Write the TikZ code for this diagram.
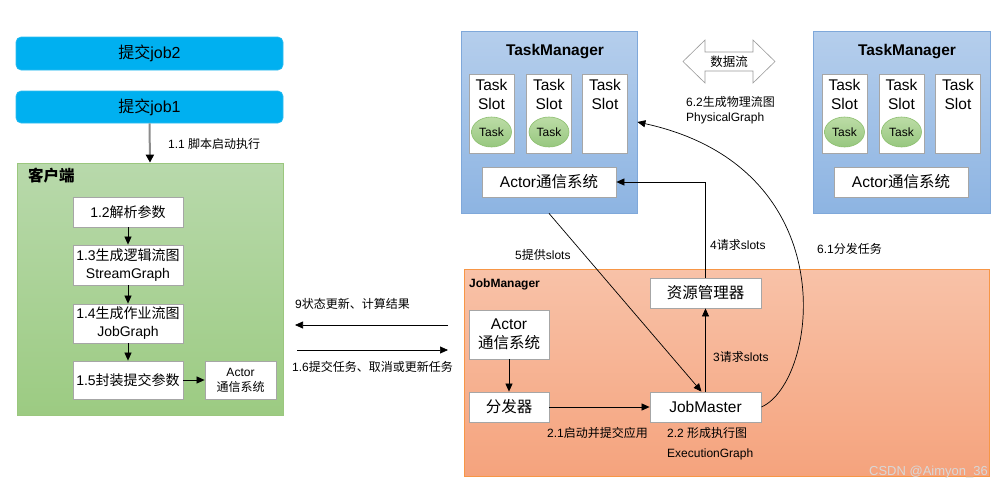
\documentclass[tikz,border=0pt]{standalone}
\usepackage{fontspec}
\setmainfont{Liberation Sans}
\newfontfamily\zh{Noto Sans CJK SC}
\usetikzlibrary{arrows.meta,shapes.geometric,calc}
\definecolor{jobblue}{HTML}{00B0F0}
\definecolor{jobbd}{HTML}{30BEF0}
\definecolor{cltop}{HTML}{B8D9AB}
\definecolor{clbot}{HTML}{9CCB82}
\definecolor{clbd}{HTML}{9BC77E}
\definecolor{tmtop}{HTML}{B5CEEC}
\definecolor{tmbot}{HTML}{8DB4E2}
\definecolor{tmbd}{HTML}{7FA8DA}
\definecolor{jmtop}{HTML}{F8C2A8}
\definecolor{jmbot}{HTML}{F5A37D}
\definecolor{jmbd}{HTML}{F79646}
\definecolor{boxbd}{HTML}{A6A6A6}
\definecolor{tasktop}{HTML}{BCDCA6}
\definecolor{taskbot}{HTML}{97C77F}
\definecolor{taskbd}{HTML}{8CBF6E}
\definecolor{wmark}{HTML}{D8D8D8}
\begin{document}
\begin{tikzpicture}[x=1pt,y=-1pt,
  jobbox/.style={rounded corners=5pt, fill=jobblue, draw=jobbd, line width=0.6pt, inner sep=0pt, font=\fontsize{16}{19}\selectfont},
  wbox/.style={draw=boxbd, fill=white, line width=0.8pt, inner sep=0pt, align=center, font=\fontsize{15.5}{19}\selectfont},
  cbox/.style={wbox, font=\fontsize{14}{18}\selectfont},
  sbox/.style={wbox, font=\fontsize{12}{15}\selectfont},
  slotbox/.style={wbox, minimum width=45pt, minimum height=79pt},
  slotlbl/.style={inner sep=0pt, align=center, anchor=north, font=\fontsize{15.5}{19}\selectfont},
  taskell/.style={ellipse, top color=tasktop, bottom color=taskbot, draw=taskbd, line width=0.6pt, minimum width=40pt, minimum height=30pt, inner sep=0pt, font=\fontsize{12}{14}\selectfont},
  lbl/.style={inner sep=0pt, font=\fontsize{12}{15}\selectfont},
  conn/.style={line width=0.7pt, -{Triangle[length=8pt,width=7pt]}},
  tmstyle/.style={top color=tmtop, bottom color=tmbot, draw=tmbd, line width=0.8pt, inner sep=0pt},
]
\useasboundingbox (0,0) rectangle (1004,491);
\fill[white] (0,0) rectangle (1004,491);

% ---------- left: jobs and client ----------
\node[jobbox, minimum width=267pt, minimum height=33pt] (job2) at (149.5,53.5) {{\zh 提交}job2};
\node[jobbox, minimum width=267pt, minimum height=32pt] (job1) at (149.5,107) {{\zh 提交}job1};
\node[top color=cltop, bottom color=clbot, draw=clbd, line width=0.8pt, inner sep=0pt, minimum width=266pt, minimum height=252pt] (client) at (150,289) {};
\node[lbl, anchor=west] (l11) at (168,144) {1.1 {\zh 脚本启动执行}};
\draw[line width=2pt, draw=black!45, -{Triangle[length=8pt,width=8pt,color=black]}] (job1.south) -- (client.north);
\node[anchor=west, inner sep=0pt, font=\fontsize{15.5}{18}\selectfont] (clt) at (28,176) {{\zh\bfseries 客户端}};

\node[cbox, minimum width=110pt, minimum height=30pt] (n12) at (128,212) {1.2{\zh 解析参数}};
\node[cbox, minimum width=110pt, minimum height=40pt] (n13) at (128,265) {1.3{\zh 生成逻辑流图}\\StreamGraph};
\node[cbox, minimum width=110pt, minimum height=39pt] (n14) at (128,323.5) {1.4{\zh 生成作业流图}\\JobGraph};
\node[cbox, minimum width=110pt, minimum height=38pt] (n15) at (128,380) {1.5{\zh 封装提交参数}};
\node[sbox, minimum width=71pt, minimum height=38pt] (cact) at (240.5,380) {Actor\\{\zh 通信系统}};
\draw[conn] (n12) -- (n13);
\draw[conn] (n13) -- (n14);
\draw[conn] (n14) -- (n15);
\draw[conn] (n15) -- (cact);

% ---------- middle arrows ----------
\coordinate (a9s) at (448,325);
\coordinate (a9e) at (295,325);
\coordinate (a16s) at (297,350);
\coordinate (a16e) at (448,350);
\draw[conn] (a9s) -- (a9e);
\draw[conn] (a16s) -- (a16e);
\node[lbl, anchor=west] (l9) at (295,304) {9{\zh 状态更新、计算结果}};
\node[lbl, anchor=west] (l16) at (292,367) {1.6{\zh 提交任务、取消或更新任务}};

% ---------- TaskManager left ----------
\node[tmstyle, minimum width=176pt, minimum height=182pt] (tmL) at (549,122) {};
\node[inner sep=0pt, font=\fontsize{15.5}{18}\bfseries\selectfont] (tmLt) at (555,52) {TaskManager};
\node[slotbox] (sL1) at (491.5,113.5) {};
\node[slotbox] (sL2) at (549,113.5) {};
\node[slotbox] (sL3) at (605,113.5) {};
\node[slotlbl] (sL1t) at (491.5,79) {Task\\Slot};
\node[slotlbl] (sL2t) at (549,79) {Task\\Slot};
\node[slotlbl] (sL3t) at (605,79) {Task\\Slot};
\node[taskell] (tL1) at (491.5,132) {Task};
\node[taskell] (tL2) at (549,132) {Task};
\node[wbox, minimum width=134pt, minimum height=30pt] (tmLact) at (549,182) {Actor{\zh 通信系统}};

% ---------- TaskManager right ----------
\node[tmstyle, minimum width=177pt, minimum height=182pt] (tmR) at (901.5,122) {};
\node[inner sep=0pt, font=\fontsize{15.5}{18}\bfseries\selectfont] (tmRt) at (907,52) {TaskManager};
\node[slotbox] (sR1) at (844.5,113.5) {};
\node[slotbox] (sR2) at (901.5,113.5) {};
\node[slotbox] (sR3) at (958,113.5) {};
\node[slotlbl] (sR1t) at (844.5,79) {Task\\Slot};
\node[slotlbl] (sR2t) at (901.5,79) {Task\\Slot};
\node[slotlbl] (sR3t) at (958,79) {Task\\Slot};
\node[taskell] (tR1) at (844.5,132) {Task};
\node[taskell] (tR2) at (901.5,132) {Task};
\node[wbox, minimum width=134pt, minimum height=30pt] (tmRact) at (901,182) {Actor{\zh 通信系统}};

% ---------- data flow double arrow ----------
\node[inner sep=0pt, font=\fontsize{12.5}{15}\selectfont] (df) at (729,61.5) {{\zh 数据流}};
\draw[draw=black!40, line width=0.6pt]
  ($(df)+(-46,0)$) -- ($(df)+(-24,-21.5)$) -- ($(df)+(-24,-9.5)$) -- ($(df)+(24,-9.5)$) -- ($(df)+(24,-21.5)$)
  -- ($(df)+(46,0)$) -- ($(df)+(24,21.5)$) -- ($(df)+(24,9.5)$) -- ($(df)+(-24,9.5)$) -- ($(df)+(-24,21.5)$) -- cycle;
\node[lbl, anchor=north west, align=left] (l62) at (686,96) {6.2{\zh 生成物理流图}\\PhysicalGraph};

% ---------- JobManager ----------
\node[top color=jmtop, bottom color=jmbot, draw=jmbd, line width=0.8pt, inner sep=0pt, minimum width=525pt, minimum height=207pt] (jm) at (726.5,372.5) {};
\node[anchor=west, inner sep=0pt, font=\fontsize{12}{14}\bfseries\selectfont] (jmt) at (469,284) {JobManager};
\node[wbox, minimum width=80pt, minimum height=49pt] (jmact) at (509,334.5) {Actor\\{\zh 通信系统}};
\node[wbox, minimum width=80pt, minimum height=30pt] (disp) at (509,407) {{\zh 分发器}};
\node[wbox, minimum width=111pt, minimum height=30pt] (jmaster) at (705.5,407) {JobMaster};
\node[wbox, minimum width=111pt, minimum height=30pt] (rm) at (705.5,293) {{\zh 资源管理器}};

\draw[conn] (jmact) -- (disp);
\draw[conn] (disp) -- (jmaster);
\draw[conn] (jmaster) -- (rm);
\draw[conn] (rm.north) |- (tmLact.east);
\draw[conn] (tmL.south) -- ([xshift=-4pt]jmaster.north);
\draw[conn] (jmaster.east) .. controls (818,382) and (848,168) .. (tmL.east);

\node[lbl, anchor=west] (l3) at (713,357) {3{\zh 请求}slots};
\node[lbl, anchor=west] (l4) at (710,245) {4{\zh 请求}slots};
\node[lbl, anchor=west] (l5) at (515,255) {5{\zh 提供}slots};
\node[lbl, anchor=west] (l61) at (817,249) {6.1{\zh 分发任务}};
\node[lbl, anchor=west] (l21) at (547,433) {2.1{\zh 启动并提交应用}};
\node[lbl, anchor=west] (l22) at (667,433) {2.2 {\zh 形成执行图}};
\node[lbl, anchor=west] (l22b) at (667,454) {ExecutionGraph};
\node[inner sep=0pt, anchor=east, text=wmark, font=\fontsize{13}{15}\selectfont] (wm) at (988,472) {CSDN @Aimyon\_36};
\end{tikzpicture}
\end{document}
